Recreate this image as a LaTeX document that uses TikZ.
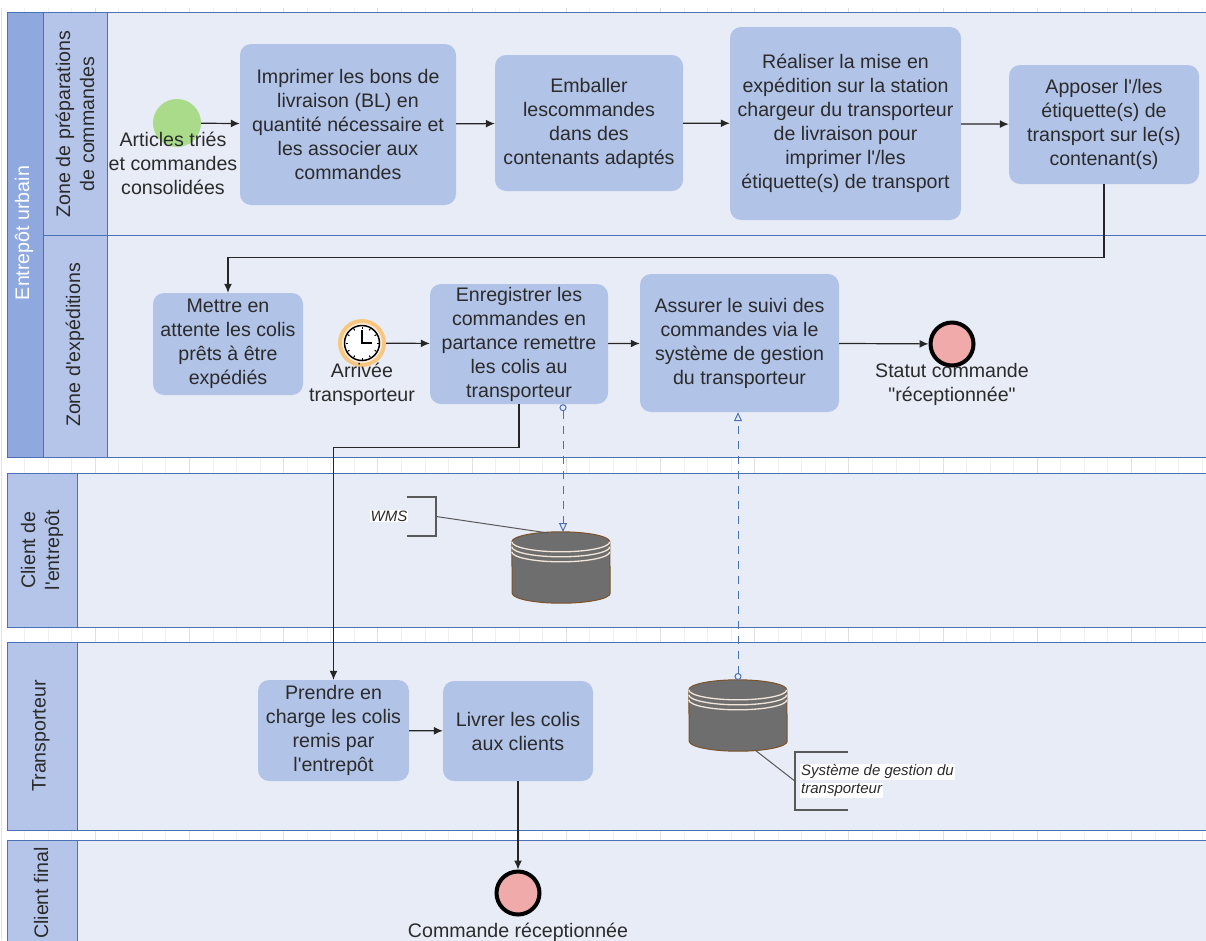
\documentclass[tikz,border=0pt]{standalone}
\usepackage{fontspec}
\setmainfont{Liberation Sans}[Ligatures=TeXOff]
\usepackage{xcolor}
\usetikzlibrary{arrows.meta,calc,shapes}
\definecolor{lanedark}{HTML}{8FA9DF}
\definecolor{lanehead}{HTML}{B4C5E9}
\definecolor{lanebody}{HTML}{E8ECF7}
\definecolor{laneline}{HTML}{4A70B5}
\definecolor{taskfill}{HTML}{B2C3E8}
\definecolor{textgray}{HTML}{2B2B2B}
\definecolor{startgreen}{HTML}{A9DB8B}
\definecolor{endred}{HTML}{F0AAAA}
\definecolor{clockring}{HTML}{F9C67F}
\tikzset{
	every node/.style={text=textgray},
	big text/.style={font=\fontsize{19.6}{24}\selectfont, align=center},
	note text/.style={font=\fontsize{15}{18}\selectfont\itshape, inner sep=0pt},
	flow/.style={line width=1.2pt, draw=black!85, -{Latex[length=9pt,width=8pt]}},
	assoc/.style={line width=1pt, draw=laneline, dash pattern=on 8pt off 7pt, {Circle[open,length=7pt,width=7pt]}-{Triangle[open,length=9pt,width=8pt]}},
	dbline/.style={line width=1.3pt, draw=white!80!brown}
}
\tikzstyle{task}=[fill=taskfill, rounded corners=11pt, inner sep=0pt, big text, execute at begin node={\rule{0pt}{18pt}}]
\tikzstyle{band}=[draw=laneline, line width=1pt]
\tikzstyle{brace}=[draw=black!65, line width=1.5pt]
\tikzstyle{event}=[circle, inner sep=0pt, minimum size=46pt]
\newcommand{\noteLine}[1]{\colorbox{white}{#1}}
\setlength{\fboxsep}{1pt}
\newcommand{\roundDb}[2]{
	\node[inner sep=0pt, minimum width=98pt, minimum height=71pt] (#1) at #2 {};
	\draw[fill=black!57, draw=brown!65!black, line width=1pt] ($(#1.north west)+(0,-10)$) arc (180:0:49pt and 10pt) -- ($(#1.south east)+(0,10)$) arc (360:180:49pt and 10pt) -- cycle;
	\foreach \dy in {-10,-15,-20} {
		\draw[dbline] ($(#1.north west)+(0,\dy)$) arc (180:360:49pt and 10pt);
	}
}
\begin{document}
\begin{tikzpicture}[x=1pt, y=1pt]
	\useasboundingbox (0,0) rectangle (1206,-940);
	\clip (0,0) rectangle (1206,-940);
	\fill[white] (0,0) rectangle (1206,-940);
	% ruler marks
	\foreach \i in {0,...,51} {
		\draw[black!6, line width=.8pt] ({1+23.55*\i},-8) -- ({1+23.55*\i},-940);
	}
	\foreach \i in {0,...,12} {
		\draw[black!12, line width=.8pt] ({1+94.2*\i},-8) -- ({1+94.2*\i},-940);
	}
	% lanes
	\draw[band, fill=lanebody] (107,-12) rectangle (1212,-235);
	\draw[band, fill=lanebody] (107,-235) rectangle (1212,-457);
	\draw[band, fill=lanebody] (77,-473) rectangle (1212,-627);
	\draw[band, fill=lanebody] (77,-642) rectangle (1212,-830);
	\draw[band, fill=lanebody] (77,-840) rectangle (1212,-950);
	\draw[band, fill=lanedark] (7,-12) rectangle (43,-457);
	\draw[band, fill=lanehead] (43,-12) rectangle (107,-235);
	\draw[band, fill=lanehead] (43,-235) rectangle (107,-457);
	\draw[band, fill=lanehead] (7,-473) rectangle (77,-627);
	\draw[band, fill=lanehead] (7,-642) rectangle (77,-830);
	\draw[band, fill=lanehead] (7,-840) rectangle (77,-950);
	\node[big text, rotate=90, text=white] (entrepot) at (24,-233) {Entrepôt urbain};
	\node[big text, rotate=90] (zonePrep) at (75,-124) {Zone de préparations\\de commandes};
	\node[big text, rotate=90] (zoneExp) at (75,-345) {Zone d'expéditions};
	\node[big text, rotate=90] (clientEnt) at (42,-550) {Client de\\l'entrepôt};
	\node[big text, rotate=90] (transp) at (41,-736) {Transporteur};
	\node[big text, rotate=90] (clientFin) at (41,-893) {Client final};

	% events
	\node[event, fill=startgreen, minimum size=48pt] (start) at (177,-123) {};
	\node[event, fill=clockring, minimum size=48pt] (timer) at (362,-343) {};
	\fill[orange!15!white] (timer.center) circle (20pt);
	\draw[fill=white, draw=black, line width=1.5pt] (timer.center) circle (17.5pt);
	\foreach \a in {0,30,...,330} {
		\draw[black, line width=1pt] ($(timer.center)+(\a:14.5pt)$) -- ($(timer.center)+(\a:16.5pt)$);
	}
	\draw[black, line width=1.1pt] ($(timer.center)+(0,13)$) -- (timer.center) -- ($(timer.center)+(10,0)$);
	\node[event, fill=endred, draw=black, line width=4pt, minimum size=43pt] (endTop) at (952,-344) {};
	\node[event, fill=endred, draw=black, line width=4pt, minimum size=43pt] (endBottom) at (518,-893) {};

	% tasks
	\node[task, minimum width=216pt, minimum height=161pt] (imprimer) at (348,-124.5) {Imprimer les bons de\\livraison (BL) en\\quantité nécessaire et\\les associer aux\\commandes};
	\node[task, minimum width=188pt, minimum height=136pt] (emballer) at (589,-123) {Emballer\\lescommandes\\dans des\\contenants adaptés};
	\node[task, minimum width=231pt, minimum height=193pt] (realiser) at (845.5,-123.5) {Réaliser la mise en\\expédition sur la station\\chargeur du transporteur\\de livraison pour\\imprimer l'/les\\étiquette(s) de transport};
	\node[task, minimum width=190pt, minimum height=119pt] (apposer) at (1104,-124.5) {Apposer l'/les\\étiquette(s) de\\transport sur le(s)\\contenant(s)};
	\node[task, minimum width=150pt, minimum height=102pt] (attente) at (228,-344) {Mettre en\\attente les colis\\prêts à être\\expédiés};
	\node[task, minimum width=178pt, minimum height=120pt] (enreg) at (519,-344) {Enregistrer les\\commandes en\\partance remettre\\les colis au\\transporteur};
	\node[task, minimum width=199pt, minimum height=138pt] (suivi) at (739.5,-343) {Assurer le suivi des\\commandes via le\\système de gestion\\du transporteur};
	\node[task, minimum width=151pt, minimum height=101pt] (prendre) at (333.5,-730.5) {Prendre en\\charge les colis\\remis par\\l'entrepôt};
	\node[task, minimum width=150pt, minimum height=100pt] (livrer) at (518,-731) {Livrer les colis\\aux clients};

	% data stores
	\roundDb{dbWms}{(561,-567.5)}
	\roundDb{dbTransp}{(738,-715.5)}

	% flows
	\draw[flow] (start) -- (imprimer);
	\draw[flow] (imprimer) -- (emballer);
	\draw[flow] (emballer) -- (realiser);
	\draw[flow] (realiser) -- (apposer);
	\draw[flow] (apposer.south) -- ++(0,-73) -| (attente.north);
	\draw[flow] (timer) -- (enreg);
	\draw[flow] (enreg) -- (suivi);
	\draw[flow] (suivi) -- (endTop);
	\draw[flow] (enreg.south) -- ++(0,-43) -| (prendre.north);
	\draw[flow] (prendre) -- (livrer);
	\draw[flow] (livrer.south) -- (endBottom.north);
	\draw[assoc] (enreg.south -| 563,0) -- (563,-532);
	\draw[assoc] (738,-680) -- (suivi.south -| 738,0);

	% annotations
	\node[inner sep=0pt, minimum width=29pt, minimum height=39pt] (wmsBrace) at (421.5,-516.5) {};
	\draw[brace] (wmsBrace.north west) -- (wmsBrace.north east) -- (wmsBrace.south east) -- (wmsBrace.south west);
	\draw[brace, line width=1pt] (wmsBrace.east) -- (548,-533);
	\node[note text] (wmsNote) at (389,-516) {\noteLine{WMS}};
	\node[inner sep=0pt, minimum width=53pt, minimum height=58pt] (transpBrace) at (821.5,-781) {};
	\draw[brace] (transpBrace.north east) -- (transpBrace.north west) -- (transpBrace.south west) -- (transpBrace.south east);
	\draw[brace, line width=1pt] (transpBrace.west) -- (755,-750);
	\node[note text, align=left, anchor=west] (transpNote) at (800,-781) {\noteLine{Système de gestion du}\\\noteLine{transporteur}};

	% event labels
	\node[big text] (startLabel) at (173,-163) {Articles triés\\et commandes\\consolidées};
	\node[big text] (timerLabel) at (362,-384) {Arrivée\\transporteur};
	\node[big text] (endTopLabel) at (952,-384) {Statut commande\\"réceptionnée"};
	\node[big text] (endBottomLabel) at (518,-932) {Commande réceptionnée};
\end{tikzpicture}
\end{document}
